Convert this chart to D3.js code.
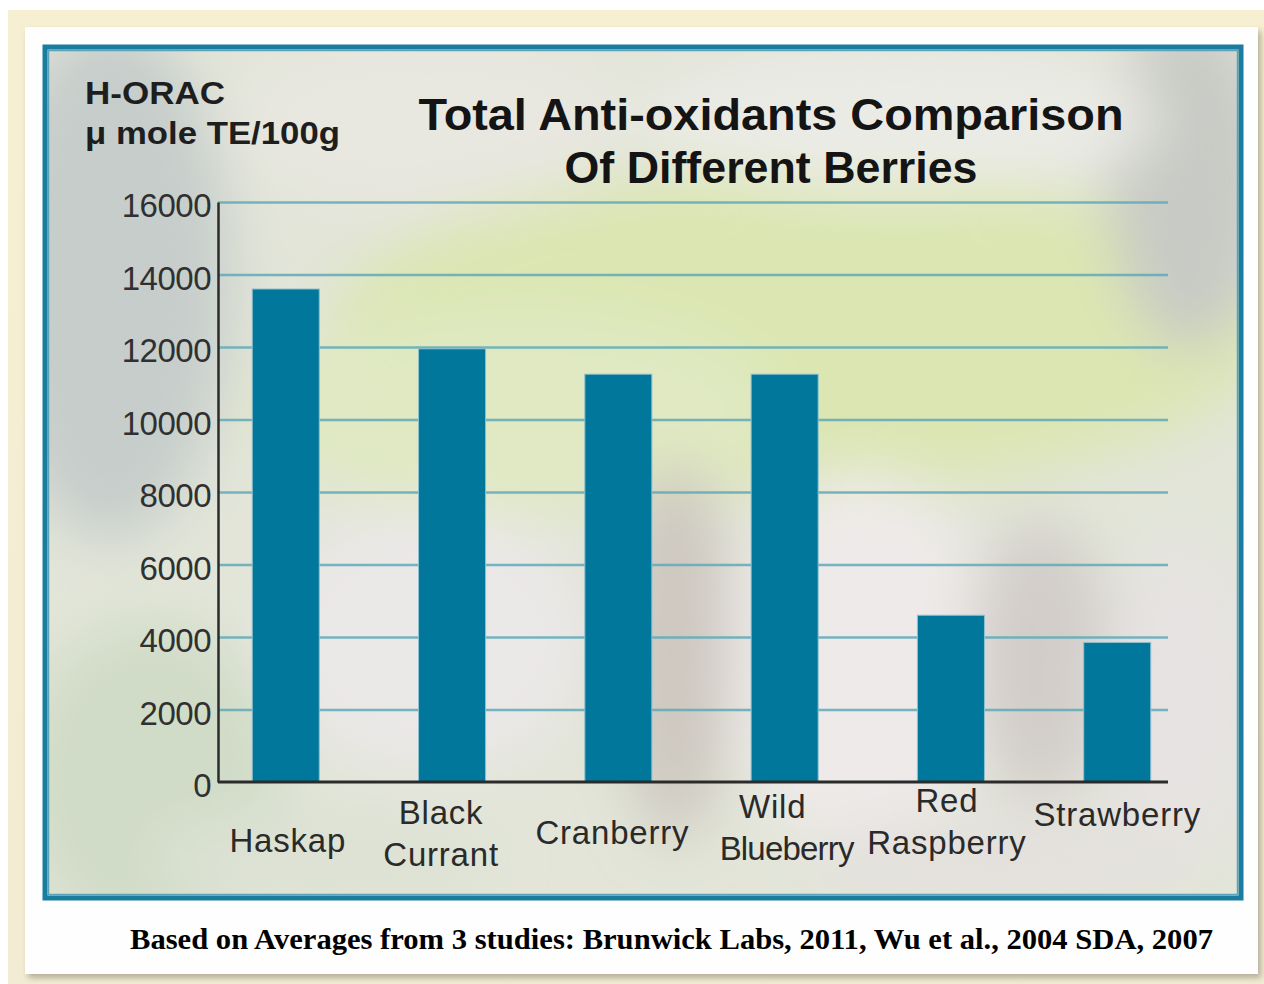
<!DOCTYPE html>
<html>
<head>
<meta charset="utf-8">
<script src="https://cdn.jsdelivr.net/npm/d3@7"></script>
<style>
  body { margin: 0; background: #fff; }
  svg { display: block; }
  .tick text { font-family: "Liberation Sans", Arial, sans-serif; }
</style>
</head>
<body>
<svg id="chart" width="1264" height="984"></svg>
<script>
// data
var berries = ['Haskap', 'Black Currant', 'Cranberry', 'Wild Blueberry', 'Red Raspberry', 'Strawberry'];
var labelLines = [['Haskap'], ['Black', 'Currant'], ['Cranberry'], ['Wild', 'Blueberry'], ['Red', 'Raspberry'], ['Strawberry']];
var horac = [13600, 11950, 11250, 11250, 4600, 3850];
var yTicks = [0, 2000, 4000, 6000, 8000, 10000, 12000, 14000, 16000];

var titleLines = ['Total Anti-oxidants Comparison', 'Of Different Berries'];
var unitLines = ['H-ORAC', 'μ mole TE/100g'];
var caption = 'Based on Averages from 3 studies: Brunwick Labs, 2011, Wu et al., 2004 SDA, 2007';

var data = berries.map((b, i) => ({ name: b, lines: labelLines[i], value: horac[i] }));

var svg = d3.select('#chart');
var defs = svg.append('defs');

///////////////////////////////////////////////////////////////
// frame + blurred photo backdrop
///////////////////////////////////////////////////////////////

var cream = defs.append('linearGradient').attr('id', 'cream').attr('x1', 0).attr('y1', 0).attr('x2', 0).attr('y2', 1);
cream.append('stop').attr('offset', '0%').attr('stop-color', '#f6efd2');
cream.append('stop').attr('offset', '100%').attr('stop-color', '#f3ecd4');

defs.append('filter').attr('id', 'blur').attr('x', '-30%').attr('y', '-30%').attr('width', '160%').attr('height', '160%')
  .append('feGaussianBlur').attr('stdDeviation', 28);

var shadow = defs.append('filter').attr('id', 'shadow').attr('x', '-5%').attr('y', '-5%').attr('width', '110%').attr('height', '110%');
shadow.append('feDropShadow').attr('dx', 3).attr('dy', 4).attr('stdDeviation', 3).attr('flood-color', '#8a8470').attr('flood-opacity', 0.6);

defs.append('clipPath').attr('id', 'boxclip')
  .append('rect').attr('x', 45).attr('y', 47).attr('width', 1196).attr('height', 851);

svg.append('rect').attr('x', 8).attr('y', 10).attr('width', 1256).attr('height', 974).attr('fill', 'url(#cream)');
svg.append('rect').attr('x', 25).attr('y', 27).attr('width', 1233).attr('height', 947)
  .attr('fill', '#fefefe').attr('filter', 'url(#shadow)');

var photo = svg.append('g').attr('clip-path', 'url(#boxclip)');
photo.append('rect').attr('x', 45).attr('y', 47).attr('width', 1196).attr('height', 851).attr('fill', '#e2e5d8');

var blobs = photo.append('g').attr('filter', 'url(#blur)');
// blobs of the out-of-focus leaf photo (background only)
[
  ['ellipse', 110, 280, 120, 260, '#c6cdcb'],
  ['ellipse', 430, 120, 200, 90, '#e8e7e0'],
  ['ellipse', 800, 330, 470, 160, '#dbe6b2'],
  ['ellipse', 520, 410, 260, 100, '#e0e9c2'],
  ['ellipse', 1190, 180, 80, 170, '#c8cac5'],
  ['ellipse', 900, 120, 260, 70, '#ebebe6'],
  ['ellipse', 150, 780, 130, 160, '#d0dcc7'],
  ['ellipse', 430, 640, 160, 130, '#ebe8e8'],
  ['ellipse', 675, 650, 55, 190, '#cdc7c0'],
  ['ellipse', 860, 660, 130, 190, '#eeeae9'],
  ['ellipse', 1040, 660, 70, 140, '#d2cdc9'],
  ['ellipse', 1180, 700, 80, 160, '#e6e3e2'],
  ['ellipse', 1000, 860, 200, 50, '#e4e1dd'],
  ['ellipse', 320, 860, 170, 50, '#dde2d4']
].forEach(function (b) {
  blobs.append(b[0]).attr('cx', b[1]).attr('cy', b[2]).attr('rx', b[3]).attr('ry', b[4]).attr('fill', b[5]);
});

// blue box border
svg.append('rect').attr('x', 45).attr('y', 47).attr('width', 1196).attr('height', 851)
  .attr('fill', 'none').attr('stroke', '#1a7d9f').attr('stroke-width', 5);
svg.append('rect').attr('x', 48.5).attr('y', 50.5).attr('width', 1189).attr('height', 844)
  .attr('fill', 'none').attr('stroke', '#5aa3bb').attr('stroke-width', 1.5);

///////////////////////////////////////////////////////////////
// draw the chart
///////////////////////////////////////////////////////////////

var plotLeft = 218, plotRight = 1168, plotTop = 202, plotBottom = 782;

var x = d3.scaleBand()
  .domain(berries)
  .range([plotLeft, 1185])
  .paddingInner(0.597)
  .paddingOuter(0.206);

var y = d3.scaleLinear()
  .domain([0, 16000])
  .range([plotBottom, plotTop]);

// grid lines
var grid = d3.axisLeft(y)
  .tickValues(yTicks.slice(1))
  .tickSize(-(plotRight - plotLeft))
  .tickFormat('');

svg.append('g')
  .attr('class', 'grid')
  .attr('transform', 'translate(' + plotLeft + ',0)')
  .call(grid)
  .call(g => g.select('.domain').remove())
  .call(g => g.selectAll('line').attr('stroke', '#5fa9b9').attr('stroke-width', 2.5).attr('stroke-opacity', 0.85));

// bars
svg.selectAll('.bar')
  .data(data, d => d.name)
  .enter()
  .append('rect')
  .attr('class', 'bar')
  .attr('x', d => x(d.name))
  .attr('y', d => y(d.value))
  .attr('width', x.bandwidth())
  .attr('height', d => plotBottom - y(d.value))
  .attr('fill', '#01779b')
  .attr('stroke', '#8fc0cf')
  .attr('stroke-width', 1);

// y axis
var yAxis = d3.axisLeft(y)
  .tickValues(yTicks)
  .tickSize(0)
  .tickPadding(7)
  .tickFormat(d3.format('d'));

svg.append('g')
  .attr('class', 'axis')
  .attr('transform', 'translate(' + plotLeft + ',0)')
  .call(yAxis)
  .call(g => g.select('.domain').attr('stroke', '#2b2b2b').attr('stroke-width', 2.5))
  .call(g => g.selectAll('.tick text')
    .attr('font-size', 33)
    .attr('fill', '#303030')
    .attr('letter-spacing', -0.5)
    .attr('dy', '0.45em'));

// x baseline
var xAxis = d3.axisBottom(x).tickSize(0).tickFormat('');
svg.append('g')
  .attr('class', 'axis')
  .attr('transform', 'translate(0,' + plotBottom + ')')
  .call(xAxis)
  .call(g => g.select('.domain').attr('d', 'M' + plotLeft + ',0H' + plotRight)
    .attr('stroke', '#2b2b2b').attr('stroke-width', 3));

// category labels (small nudges to follow the hand-placed originals)
var nudge = { 'Haskap': [2, 12], 'Black Currant': [-11, 0], 'Cranberry': [-6, 4], 'Wild Blueberry': [-12, -6], 'Red Raspberry': [-4, -12], 'Strawberry': [0, -14] };

var labels = svg.selectAll('.name')
  .data(data, d => d.name)
  .enter()
  .append('text')
  .attr('class', 'name')
  .attr('text-anchor', 'middle')
  .attr('font-family', '"Liberation Sans", Arial, sans-serif')
  .attr('font-size', 33)
  .attr('letter-spacing', 0.8)
  .attr('fill', '#2a2a2a')
  .attr('transform', d => 'translate(' + (x(d.name) + x.bandwidth() / 2 + nudge[d.name][0]) + ',' + (plotBottom + 50 + nudge[d.name][1]) + ')');

labels.each(function (d) {
  var t = d3.select(this);
  var n = d.lines.length;
  d.lines.forEach(function (line, i) {
    var sx = (d.name === 'Wild Blueberry' && i === 1) ? 14 : 0;
    t.append('tspan')
      .attr('x', sx)
      .attr('y', n === 1 ? 8 : (i === 0 ? -8 : 34))
      .attr('letter-spacing', (d.name === 'Wild Blueberry' && i === 1) ? -0.8 : null)
      .text(line);
  });
});

// title
svg.append('g').selectAll('text')
  .data(titleLines)
  .enter()
  .append('text')
  .attr('x', 771)
  .attr('y', (d, i) => 130 + i * 53)
  .attr('text-anchor', 'middle')
  .attr('font-family', '"Liberation Sans", Arial, sans-serif')
  .attr('font-weight', 'bold')
  .attr('font-size', 44)
  .attr('fill', '#141414')
  .attr('textLength', (d, i) => i === 0 ? 705 : 413)
  .attr('lengthAdjust', 'spacingAndGlyphs')
  .text(d => d);

// unit label
svg.append('g').selectAll('text')
  .data(unitLines)
  .enter()
  .append('text')
  .attr('x', 85)
  .attr('y', (d, i) => 104 + i * 40)
  .attr('font-family', '"Liberation Sans", Arial, sans-serif')
  .attr('font-weight', 'bold')
  .attr('font-size', 31)
  .attr('fill', '#1e1e1e')
  .attr('textLength', (d, i) => i === 0 ? 140 : 255)
  .attr('lengthAdjust', 'spacingAndGlyphs')
  .text(d => d);

// source caption
svg.append('text')
  .attr('x', 130)
  .attr('y', 949)
  .attr('font-family', '"Liberation Serif", "Times New Roman", serif')
  .attr('font-weight', 'bold')
  .attr('font-size', 30)
  .attr('fill', '#000')
  .attr('textLength', 1083)
  .attr('lengthAdjust', 'spacingAndGlyphs')
  .text(caption);
</script>
</body>
</html>
